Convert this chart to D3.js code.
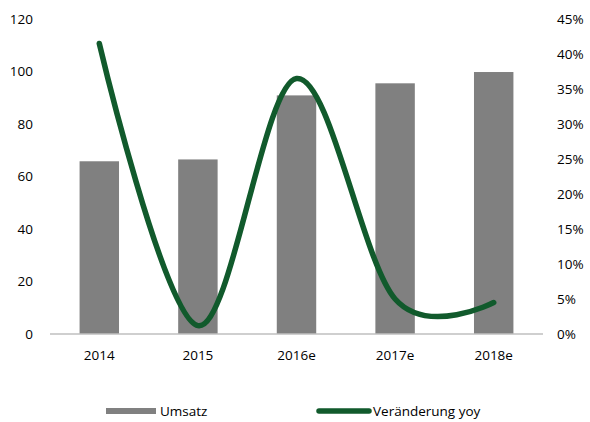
<!DOCTYPE html>
<html>
<head>
<meta charset="utf-8">
<script src="https://cdn.jsdelivr.net/npm/d3@7"></script>
<style>
  html, body { margin: 0; padding: 0; background: #fff; }
  text { font-family: "Open Sans", "Liberation Sans", sans-serif; fill: #000; }
</style>
</head>
<body>
<div id="chart"></div>
<script>
// ---- Data ----
const years = ["2014", "2015", "2016e", "2017e", "2018e"];
const umsatz = [65.8, 66.5, 90.9, 95.5, 99.8];
const yoy = [0.415, 0.012, 0.365, 0.05, 0.045];
const leftTicks = [0, 20, 40, 60, 80, 100, 120];
const rightTicks = [0, 0.05, 0.10, 0.15, 0.20, 0.25, 0.30, 0.35, 0.40, 0.45];

const W = 590, H = 422;
const plot = { left: 50, right: 543, top: 19, bottom: 334 };
const FS = "13.5px";

const svg = d3.select("#chart").append("svg")
  .attr("width", W).attr("height", H);

const x = d3.scaleBand().domain(years)
  .range([plot.left, plot.right]).paddingInner(0.6).paddingOuter(0.3);
const yL = d3.scaleLinear().domain([0, 120]).range([plot.bottom, plot.top]);
const yR = d3.scaleLinear().domain([0, 0.45]).range([plot.bottom, plot.top]);

// ---- Bars ----
svg.append("g").selectAll("rect")
  .data(years)
  .join("rect")
  .attr("x", d => x(d))
  .attr("width", x.bandwidth())
  .attr("y", (d, i) => yL(umsatz[i]))
  .attr("height", (d, i) => yL(0) - yL(umsatz[i]))
  .attr("fill", "#808080");

// ---- Baseline ----
svg.append("line")
  .attr("x1", plot.left).attr("x2", plot.right)
  .attr("y1", plot.bottom).attr("y2", plot.bottom)
  .attr("stroke", "#bfbfbf").attr("stroke-width", 1.5);

// ---- Left axis labels ----
svg.append("g").selectAll("text")
  .data(leftTicks)
  .join("text")
  .attr("x", 33)
  .attr("y", d => yL(d))
  .attr("dy", "0.35em")
  .attr("text-anchor", "end")
  .style("font-size", FS)
  .text(d => d);

// ---- Right axis labels ----
svg.append("g").selectAll("text")
  .data(rightTicks)
  .join("text")
  .attr("x", 557)
  .attr("y", d => yR(d))
  .attr("dy", "0.35em")
  .attr("text-anchor", "start")
  .style("font-size", FS)
  .text(d => d3.format(".0%")(d));

// ---- Category labels ----
svg.append("g").selectAll("text")
  .data(years)
  .join("text")
  .attr("x", d => x(d) + x.bandwidth() / 2)
  .attr("y", 355)
  .attr("dy", "0.35em")
  .attr("text-anchor", "middle")
  .style("font-size", FS)
  .text(d => d);

// ---- Smoothed yoy line ----
const line = d3.line()
  .x((d, i) => x(years[i]) + x.bandwidth() / 2)
  .y(d => yR(d))
  .curve(d3.curveCardinal.tension(0));

svg.append("path")
  .datum(yoy)
  .attr("d", line)
  .attr("fill", "none")
  .attr("stroke", "#115a2c")
  .attr("stroke-width", 5.5)
  .attr("stroke-linecap", "round");

// ---- Legend ----
const lg = svg.append("g");
lg.append("rect")
  .attr("x", 106).attr("y", 408).attr("width", 50).attr("height", 6)
  .attr("fill", "#808080");
lg.append("text")
  .attr("x", 160).attr("y", 411).attr("dy", "0.35em")
  .style("font-size", FS).text("Umsatz");
lg.append("line")
  .attr("x1", 319).attr("x2", 369).attr("y1", 411).attr("y2", 411)
  .attr("stroke", "#115a2c").attr("stroke-width", 5.5)
  .attr("stroke-linecap", "round");
lg.append("text")
  .attr("x", 373).attr("y", 411).attr("dy", "0.35em")
  .style("font-size", FS).text("Veränderung yoy");
</script>
</body>
</html>
